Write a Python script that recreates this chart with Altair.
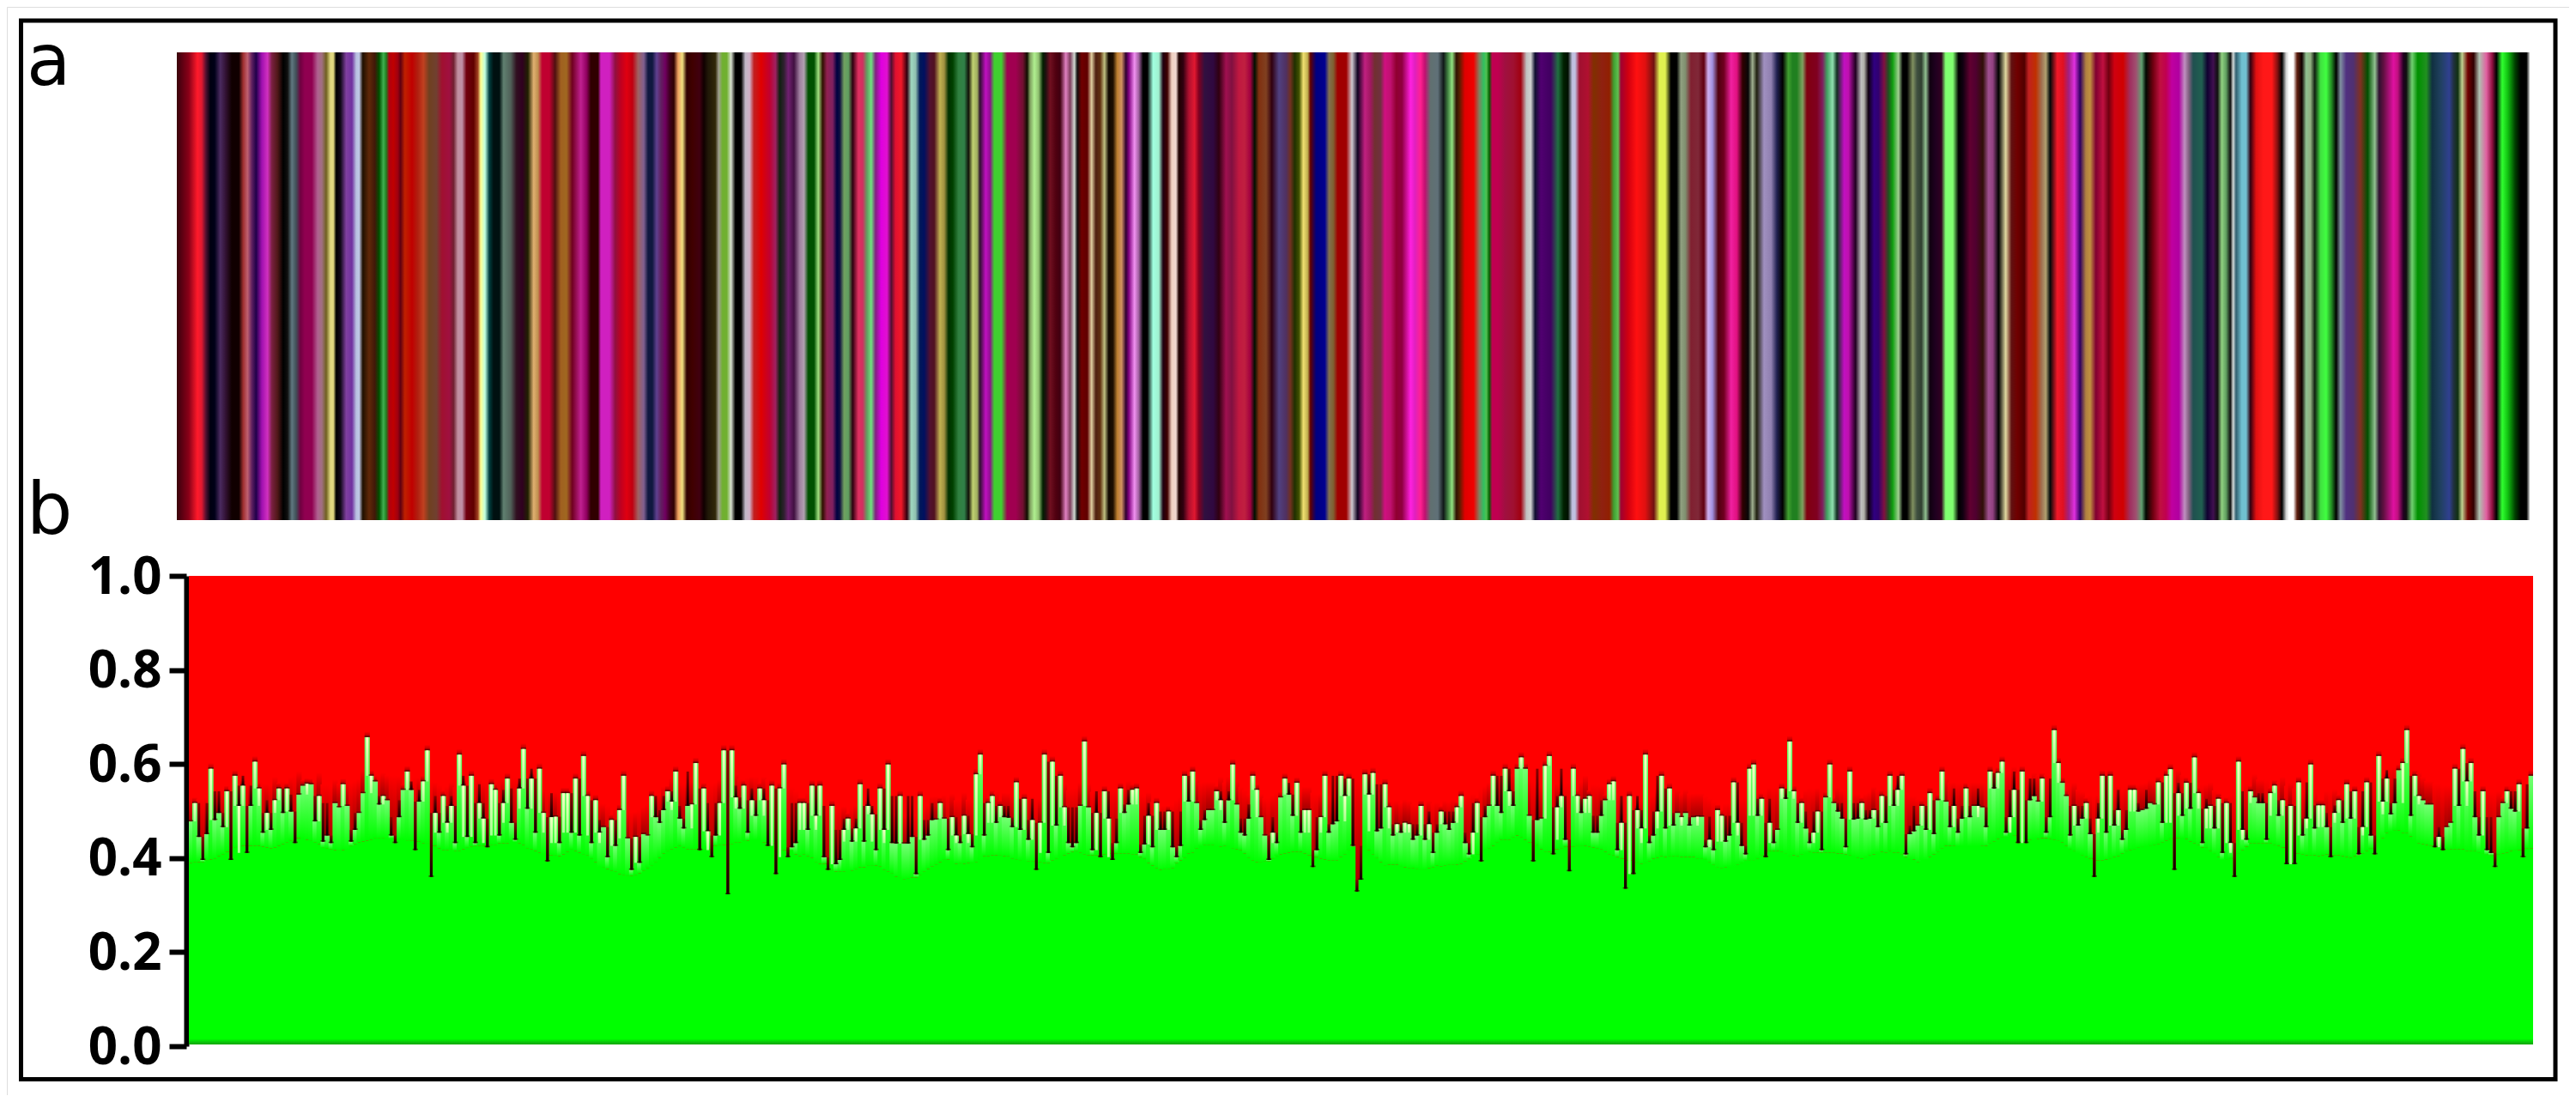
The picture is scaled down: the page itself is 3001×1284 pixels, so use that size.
import altair as alt
import pandas as pd
import numpy as np

alt.data_transformers.disable_max_rows()

tick_values = [0.0, 0.2, 0.4, 0.6, 0.8, 1.0]
panel_labels = ["a", "b"]

# Panel b: membership of the green cluster, sample by sample
green_1 = [.478,.517,.445,.396,.451,.590,.481,.496,.466,.542,.396,.575,.511,.554,.411,.511,.605,.548,.454,.496,.460,.523,.548,.496,.548,.499,.432,.535,.554,.558,.557,.478,.532,.435,.448,.432,.517,.508,.557,.511,.435,.460,.496,.538,.657,.575,.563,.514,.532,.523,.448,.432,.487,.545,.584,.545,.417,.520,.563,.629,.360,.496,.454,.532,.475,.511,.432,.620,.554,.445,.575,.432,.517,.484,.423,.557,.545,.448,.517,.569,.475,.439,.548,.632,.505,.569,.454,.590,.496,.393,.487,.488,.432,.538,.538,.454,.569,.448,.617,.532,.432,.523,.454,.466,.402,.481,.426,.502,.575,.442,.375,.445,.390,.451,.448,.532,.487,.475,.502,.542,.520,.584,.484,.463,.511,.514,.602,.417,.548,.457,.402,.448,.517,.629,.323,.629,.529,.505,.554,.454,.523,.490,.548,.523,.426,.554]
green_2 = [.366,.548,.599,.402,.423,.432,.517,.517,.460,.554,.490,.554,.402,.375,.511,.387,.396,.460,.484,.435,.463,.557,.435,.511,.493,.417,.548,.460,.599,.432,.431,.532,.431,.431,.445,.366,.532,.439,.448,.481,.482,.517,.484,.417,.487,.448,.432,.490,.451,.423,.578,.620,.448,.517,.532,.475,.511,.487,.486,.466,.561,.460,.526,.439,.481,.375,.475,.620,.411,.605,.469,.575,.508,.432,.423,.432,.511,.648,.508,.417,.496,.402,.542,.484,.396,.432,.548,.496,.514,.545,.548,.411,.429,.490,.423,.517,.460,.460,.499,.423,.402,.426,.575,.520,.584,.517,.460,.481,.502,.502,.542,.523,.475,.523,.599,.514,.454,.448,.484,.575,.545,.487,.448,.396,.454,.432,.529,.569,.535,.490,.560,.454,.502,.502,.381,.417,.487,.575,.454,.472,.478,.575,.532,.569,.426,.329,.354,.578,.535,.581]
green_3 = [.457,.463,.557,.508,.448,.472,.454,.475,.472,.439,.448,.511,.439,.472,.411,.454,.499,.472,.460,.475,.508,.532,.432,.408,.454,.517,.393,.487,.511,.575,.511,.496,.590,.542,.511,.590,.614,.590,.490,.393,.481,.484,.596,.617,.408,.508,.532,.439,.372,.590,.532,.496,.526,.532,.454,.454,.490,.523,.557,.563,.417,.475,.335,.532,.366,.502,.463,.620,.432,.448,.499,.575,.463,.548,.469,.496,.487,.496,.469,.487,.488,.488,.423,.439,.417,.502,.490,.435,.448,.561,.475,.426,.408,.590,.599,.490,.526,.402,.475,.432,.460,.548,.526,.648,.542,.475,.517,.463,.432,.454,.499,.417,.529,.599,.517,.499,.484,.423,.584,.482,.484,.517,.482,.484,.502,.466,.532,.475,.575,.511,.545,.575,.408,.451,.457,.469,.511,.460,.538,.451,.523,.584,.520,.466,.511,.454,.484,.548,.487,.511]
green_4 = [.511,.508,.466,.584,.548,.581,.605,.454,.487,.545,.432,.584,.432,.523,.532,.520,.569,.454,.487,.672,.602,.560,.532,.448,.511,.469,.484,.517,.451,.360,.484,.575,.454,.575,.469,.502,.439,.460,.545,.545,.499,.502,.505,.517,.514,.561,.475,.575,.589,.375,.538,.490,.560,.505,.614,.538,.432,.505,.511,.463,.526,.411,.517,.432,.360,.605,.460,.439,.542,.529,.517,.517,.439,.538,.554,.490,.523,.387,.511,.387,.561,.448,.484,.599,.463,.512,.512,.466,.402,.496,.523,.475,.557,.484,.542,.408,.466,.561,.448,.408,.617,.520,.569,.493,.517,.587,.602,.672,.490,.575,.532,.523,.514,.514,.423,.445,.417,.466,.475,.590,.511,.632,.563,.602,.487,.448,.542,.417,.411,.381,.487,.517,.542,.505,.499,.557,.402,.463,.575]

# Panel a: colours read along the barcode, as (place in the reading window, colour)
strip_1 = [(18,"#3a0a0a"),(30,"#500010"),(60,"#8a0018"),(90,"#ff1a2a"),(105,"#e01830"),(120,"#501030"),(135,"#000010"),(150,"#000018"),(170,"#4a2a60"),(190,"#301030"),(210,"#100000"),(235,"#100000"),(250,"#a03030"),(265,"#c06070"),(280,"#602060"),(295,"#20004a"),(315,"#a010b0"),(335,"#d030c0"),(350,"#7a2040"),(370,"#501818"),(390,"#000000"),(405,"#101010"),(420,"#607880"),(435,"#405058"),(450,"#700040"),(465,"#900050"),(490,"#900050"),(510,"#b06090"),(525,"#a07080"),(540,"#706020"),(555,"#e0d880"),(565,"#e0d880"),(575,"#000000"),(590,"#100818"),(610,"#8040a0"),(630,"#7030a0"),(645,"#b8c0e0"),(655,"#c0c8e8"),(668,"#201000"),(690,"#602808"),(710,"#401808"),(725,"#005000"),(740,"#40b050"),(750,"#208020"),(760,"#b00010"),(775,"#c00000"),(790,"#a00010"),(800,"#600010"),(815,"#c02000"),(840,"#c00000"),(860,"#b02010"),(880,"#c04020"),(900,"#704020"),(925,"#704030"),(945,"#a01030"),(970,"#a01040"),(985,"#702030"),(1000,"#c090a0"),(1015,"#c090a8"),(1030,"#700010"),(1055,"#600000"),(1070,"#a04020"),(1080,"#ffff90"),(1095,"#c0ffe0"),(1110,"#004040"),(1125,"#001010"),(1145,"#001010"),(1160,"#608070"),(1185,"#506058"),(1205,"#301020"),(1225,"#300020"),(1245,"#202000"),(1265,"#e0b070"),(1280,"#c09050"),(1295,"#c00030"),(1320,"#c00030"),(1340,"#501010"),(1360,"#a06020"),(1380,"#a06820"),(1400,"#700020"),(1430,"#c02090"),(1450,"#900060"),(1465,"#300000"),(1490,"#300000")]
strip_2 = [(0,"#d020c0"),(30,"#d020c0"),(50,"#901040"),(70,"#c00020"),(90,"#e00010"),(110,"#c00010"),(130,"#a06060"),(150,"#806090"),(165,"#101840"),(180,"#101840"),(195,"#604090"),(210,"#602060"),(225,"#700060"),(240,"#400020"),(255,"#300000"),(270,"#f0a060"),(285,"#f0e080"),(300,"#300000"),(320,"#400000"),(345,"#400010"),(360,"#100000"),(375,"#201808"),(400,"#302808"),(412,"#a0a090"),(425,"#70b030"),(440,"#70b030"),(455,"#d8e0d0"),(470,"#000000"),(490,"#000000"),(505,"#c0b8c8"),(520,"#d0b0c8"),(535,"#c02020"),(560,"#e00000"),(590,"#c00030"),(610,"#a02060"),(625,"#102010"),(640,"#302030"),(655,"#702070"),(675,"#401040"),(695,"#a080a0"),(710,"#b0a0b0"),(725,"#005000"),(745,"#005000"),(760,"#a0e080"),(775,"#301000"),(790,"#902050"),(810,"#802060"),(825,"#000040"),(835,"#101040"),(850,"#70a060"),(865,"#60a060"),(880,"#300010"),(900,"#e03060"),(915,"#d03060"),(930,"#60a060"),(945,"#70e080"),(960,"#802080"),(980,"#e000e0"),(1000,"#e010d0"),(1015,"#501030"),(1030,"#e01030"),(1050,"#f01828"),(1070,"#300010"),(1085,"#a0d8c0"),(1100,"#90c0b0"),(1115,"#001858"),(1130,"#001060"),(1150,"#501030"),(1165,"#501020"),(1185,"#c0b050"),(1200,"#a09040"),(1215,"#003000"),(1230,"#004000"),(1250,"#308040"),(1270,"#308048"),(1285,"#101008"),(1300,"#c0d070"),(1315,"#a0b060"),(1325,"#301030"),(1345,"#c010c0"),(1360,"#901090"),(1375,"#40d030"),(1400,"#40d030"),(1420,"#a00050"),(1450,"#a00050"),(1475,"#701030"),(1490,"#101000")]
strip_3 = [(0,"#80a060"),(15,"#b0f090"),(30,"#90c070"),(45,"#002000"),(55,"#201010"),(70,"#701020"),(90,"#500010"),(105,"#400010"),(125,"#e080c0"),(140,"#804060"),(155,"#d0d8d0"),(165,"#101010"),(180,"#700000"),(200,"#600000"),(215,"#e0d0a0"),(230,"#502010"),(245,"#603010"),(260,"#c0c080"),(275,"#100800"),(290,"#201000"),(305,"#c08030"),(320,"#d09060"),(335,"#300030"),(345,"#800080"),(365,"#f090f0"),(380,"#a060a0"),(395,"#000000"),(410,"#000000"),(430,"#a0ffe0"),(450,"#a0f0d0"),(465,"#200010"),(480,"#400000"),(495,"#f0d0c0"),(510,"#f0d8d0"),(520,"#200000"),(535,"#300010"),(555,"#b01030"),(575,"#e01830"),(590,"#800020"),(610,"#301040"),(640,"#300840"),(660,"#300010"),(685,"#a01050"),(705,"#801040"),(730,"#c01840"),(750,"#c02040"),(770,"#a00040"),(785,"#001000"),(800,"#803010"),(825,"#804020"),(845,"#300010"),(870,"#504080"),(895,"#503060"),(910,"#703020"),(925,"#203000"),(940,"#405000"),(955,"#f0e070"),(970,"#c0b050"),(980,"#600000"),(1000,"#000080"),(1030,"#000090"),(1045,"#807050"),(1060,"#806030"),(1075,"#a00000"),(1105,"#a00000"),(1125,"#d0c8d0"),(1145,"#100020"),(1170,"#c02080"),(1190,"#a01860"),(1205,"#703030"),(1225,"#703040"),(1240,"#d01080"),(1260,"#c01070"),(1280,"#900030"),(1300,"#900040"),(1330,"#ff20e0"),(1345,"#e020c0"),(1365,"#ff2090"),(1380,"#c01070"),(1400,"#607070"),(1425,"#607078"),(1445,"#101818"),(1460,"#408040"),(1475,"#90e080"),(1490,"#301000")]
strip_4 = [(0,"#502000"),(20,"#e00000"),(50,"#f00000"),(70,"#808060"),(85,"#30c060"),(95,"#50c050"),(105,"#006000"),(115,"#c00050"),(135,"#c00050"),(160,"#a01040"),(190,"#a01030"),(215,"#a00010"),(235,"#c0c0c0"),(250,"#d0d0d0"),(265,"#101030"),(285,"#500070"),(320,"#400060"),(345,"#207040"),(365,"#002000"),(380,"#001000"),(395,"#c0c0e0"),(405,"#c0c0e0"),(420,"#a01030"),(450,"#b01030"),(470,"#803000"),(500,"#902010"),(525,"#902000"),(540,"#40a030"),(555,"#60c050"),(565,"#a00030"),(590,"#d00010"),(620,"#ff1010"),(650,"#e01010"),(680,"#701010"),(700,"#e0f050"),(720,"#e0f050"),(740,"#000000"),(760,"#000000"),(775,"#90a080"),(790,"#809070"),(810,"#802030"),(835,"#802838"),(855,"#600010"),(870,"#d0b0f0"),(885,"#a090e0"),(905,"#500010"),(925,"#700020"),(950,"#f020a0"),(970,"#e01080"),(990,"#300000"),(1010,"#080808"),(1025,"#a0b090"),(1040,"#202010"),(1065,"#a090c0"),(1090,"#9080b0"),(1110,"#202050"),(1130,"#000000"),(1150,"#40a030"),(1165,"#208020"),(1180,"#208020"),(1200,"#80a060"),(1215,"#800010"),(1250,"#800020"),(1270,"#802060"),(1285,"#40a060"),(1305,"#90e0b0"),(1320,"#103020"),(1345,"#c010c0"),(1360,"#c010b0"),(1385,"#200020"),(1405,"#c0c0c0"),(1415,"#b0b0a8"),(1430,"#100010"),(1450,"#300080"),(1465,"#300070"),(1485,"#801040")]
strip_5 = [(0,"#205020"),(15,"#10a010"),(35,"#a0d090"),(50,"#000000"),(65,"#000000"),(85,"#809060"),(100,"#405040"),(115,"#304030"),(130,"#90c090"),(145,"#100010"),(165,"#200020"),(185,"#300020"),(200,"#80ff70"),(225,"#80ff70"),(245,"#000000"),(260,"#100010"),(285,"#600030"),(305,"#500030"),(330,"#301008"),(350,"#a05090"),(365,"#904080"),(385,"#000000"),(410,"#e0d8a0"),(430,"#601010"),(450,"#700000"),(475,"#500000"),(490,"#c02020"),(515,"#c03000"),(535,"#a07050"),(550,"#b0a070"),(565,"#000808"),(590,"#f01828"),(610,"#e01020"),(630,"#a02080"),(650,"#e030e0"),(670,"#300060"),(690,"#b08040"),(705,"#c09040"),(725,"#800030"),(750,"#c01040"),(770,"#700010"),(790,"#d00010"),(820,"#d00000"),(845,"#a03060"),(865,"#a05070"),(885,"#60a070"),(900,"#000800"),(925,"#700010"),(950,"#c01040"),(970,"#c00050"),(990,"#c000a0"),(1015,"#b000a0"),(1035,"#c090c0")]
strip_6 = [(0,"#806080"),(15,"#205050"),(45,"#206050"),(65,"#100030"),(85,"#401050"),(100,"#101010"),(115,"#90d080"),(130,"#60a060"),(145,"#101010"),(155,"#d0d8d8"),(165,"#306070"),(185,"#70c0d0"),(200,"#70c0d0"),(215,"#300010"),(235,"#e01010"),(260,"#ff1818"),(290,"#ff1818"),(310,"#801010"),(325,"#000000"),(340,"#d0d0d0"),(350,"#ffffff"),(365,"#ffffff"),(378,"#602010"),(395,"#100000"),(410,"#90c090"),(425,"#90b080"),(440,"#102010"),(460,"#40e040"),(480,"#40ff40"),(500,"#208020"),(515,"#000000"),(530,"#8090a0"),(550,"#503080"),(575,"#503070"),(600,"#803020"),(625,"#005000"),(650,"#90c090"),(665,"#301030"),(680,"#601040"),(715,"#e010a0"),(730,"#c01080"),(750,"#200020"),(760,"#101010"),(780,"#70d070"),(800,"#009000"),(830,"#209020"),(850,"#103040"),(880,"#204060"),(910,"#304090"),(925,"#203040"),(940,"#103010"),(955,"#c0d090"),(975,"#700000"),(995,"#300000"),(1015,"#b0c0b0"),(1040,"#e060a0"),(1060,"#901040"),(1075,"#000000"),(1095,"#30ff30"),(1115,"#10c010"),(1140,"#004000"),(1160,"#000000"),(1180,"#000000"),(1190,"#c0c0c0")]
strip_windows = [(200, strip_1), (700, strip_2), (1200, strip_3), (1700, strip_4), (2200, strip_5), (2550, strip_6)]

STRIP_LEFT, STRIP_RIGHT = 206.0, 2947.0
PLOT_LEFT, PLOT_RIGHT = 220.0, 2951.0

stops = []
for origin, strip in strip_windows:
    for place, colour in strip:
        off = (origin + place / 3.0 - STRIP_LEFT) / (STRIP_RIGHT - STRIP_LEFT)
        stops.append((min(max(off, 0.0), 1.0), colour))
stops.sort(key=lambda s: s[0])
gradient = alt.Gradient(
    gradient="linear", x1=0, x2=1, y1=0, y2=0,
    stops=[alt.GradientStop(color=c, offset=o) for o, c in stops],
)

green = green_1 + green_2 + green_3 + green_4
n = len(green)
arr = np.array(green)
# local level of the outline: median of the neighbourhood, lightly evened out
med = np.array([np.median(arr[max(0, i - 5):i + 6]) for i in range(n)])
level = np.array([med[max(0, i - 3):i + 4].mean() for i in range(n)])

rows = []
for i, v in enumerate(green):
    e = float(level[i])
    lefts = [green[j] for j in range(max(0, i - 3), i)]
    rights = [green[j] for j in range(i + 1, min(n, i + 4))]
    lu = [x for x in lefts if x > v + 0.015]
    ru = [x for x in rights if x > v + 0.015]
    ld = [x for x in lefts[-2:] if x < v - 0.015]
    rd = [x for x in rights[:2] if x < v - 0.015]
    dip = min(lu[-1], ru[0]) if lu and ru else v
    spike = max(ld[-1], rd[0]) if ld and rd else v
    is_spike = v > e + 0.02
    rows.append({
        "i0": i - 0.15, "i1": i + 1.15, "v": v,
        "halo": v + 0.012 if is_spike else min(max(e, v) + 0.05, 1.0),
        "glow_lo": e - 0.085, "glow_hi": v,
        "edge": v + 0.003,
        "dip": dip, "spike": spike,
        "c0": i + 0.18, "c1": i + 0.82,
        "lo": 0.2,
    })
df = pd.DataFrame(rows)
dips = df[df["dip"] > df["v"]]
spikes = df[df["spike"] < df["v"]]
glowing = df[df["glow_hi"] > df["glow_lo"] + 0.002]

W, H = 2985, 1268
OFF = 8
xs = alt.Scale(domain=[0, n], range=[PLOT_LEFT - OFF, PLOT_RIGHT - OFF])
ys = alt.Scale(domain=[0, 1], range=[1219 - OFF, 671 - OFF])
xclip = alt.Scale(domain=[0, n], range=[PLOT_LEFT - OFF, PLOT_RIGHT - OFF], clamp=True)
X = alt.X("i0:Q", scale=xclip, axis=None)
Y_noaxis = lambda f: alt.Y(f, scale=ys, axis=None)

bands = pd.DataFrame({"x0": [0.0], "x1": [float(n)], "lo": [0.004], "hi": [1.0], "base": [0.32], "foot": [0.016]})
BX = alt.X("x0:Q", scale=xs, axis=None)

def vgrad(bottom, top):
    return alt.Gradient(gradient="linear", x1=0, x2=0, y1=1, y2=0, stops=[
        alt.GradientStop(color=bottom, offset=0), alt.GradientStop(color=top, offset=1)])

red_bg = alt.Chart(bands).mark_rect(color="#ff0000").encode(x=BX, x2="x1:Q", y=Y_noaxis("lo:Q"), y2="hi:Q")
halo = alt.Chart(df).mark_rect(color=vgrad("#a40000", "#ff0000")).encode(x=X, x2="i1:Q", y=Y_noaxis("v:Q"), y2="halo:Q")
green_base = alt.Chart(bands).mark_rect(color="#00ff00").encode(x=BX, x2="x1:Q", y=Y_noaxis("lo:Q"), y2="base:Q")
upper = alt.Chart(df[df["glow_lo"] >= df["v"]]).mark_rect(color="#00ff00").encode(x=X, x2="i1:Q", y=Y_noaxis("lo:Q"), y2="v:Q")
low_fill = alt.Chart(df[df["glow_lo"] < df["v"]]).mark_rect(color="#00ff00").encode(x=X, x2="i1:Q", y=Y_noaxis("lo:Q"), y2="glow_lo:Q")
glow = alt.Chart(glowing).mark_rect(color=vgrad("#00ff00", "#74ff74")).encode(x=X, x2="i1:Q", y=Y_noaxis("glow_lo:Q"), y2="glow_hi:Q")
edge = alt.Chart(df).mark_rect(color="#300000", opacity=0.6).encode(x=X, x2="i1:Q", y=Y_noaxis("v:Q"), y2="edge:Q")
dip_bars = alt.Chart(dips).mark_rect(color=vgrad("#0c0000", "#8a0000")).encode(
    x=alt.X("c0:Q", scale=xs, axis=None), x2="c1:Q", y=Y_noaxis("v:Q"), y2="dip:Q")
spike_bars = alt.Chart(spikes).mark_rect(color=vgrad("#a8ff90", "#f8ffc4")).encode(
    x=alt.X("c0:Q", scale=xs, axis=None), x2="c1:Q", y=Y_noaxis("spike:Q"), y2="v:Q")
foot = alt.Chart(bands).mark_rect(color=vgrad("#10a010", "#00ff00")).encode(x=BX, x2="x1:Q", y=Y_noaxis("lo:Q"), y2="foot:Q")

axis_layer = alt.Chart(pd.DataFrame({"t": tick_values})).mark_tick(opacity=0).encode(
    y=alt.Y("t:Q", scale=ys, axis=alt.Axis(
        values=tick_values, format=".1f", title=None, grid=False,
        offset=-(217 - OFF), domainColor="#000000", domainWidth=6,
        tickColor="#000000", tickWidth=6, tickSize=20, labelPadding=9,
        labelFont="Open Sans", labelFontWeight="bold", labelFontSize=60,
        labelColor="#000000", labelOffset=2, labelFlush=False, labelOverlap=False,
    )))

strip = alt.Chart(pd.DataFrame({"s0": [0.0], "s1": [1.0], "t0": [0.0], "t1": [1.0]})).mark_rect(color=gradient).encode(
    x=alt.X("s0:Q", scale=alt.Scale(domain=[0, 1], range=[STRIP_LEFT - OFF, STRIP_RIGHT - OFF]), axis=None),
    x2="s1:Q",
    y=alt.Y("t0:Q", scale=alt.Scale(domain=[0, 1], range=[606 - OFF, 61 - OFF]), axis=None),
    y2="t1:Q",
)

frame = alt.Chart(pd.DataFrame({"f": [0]})).mark_rect(fill=None, stroke="#000000", strokeWidth=5).encode(
    x=alt.value(24.5 - OFF), x2=alt.value(2977 - OFF), y=alt.value(24 - OFF), y2=alt.value(1257.5 - OFF))

label_a = alt.Chart(pd.DataFrame({"t": [panel_labels[0]]})).mark_text(
    font="DejaVu Sans", fontSize=84, align="left", baseline="alphabetic", color="#000000",
).encode(text="t:N", x=alt.value(31 - OFF), y=alt.value(99 - OFF))
label_b = alt.Chart(pd.DataFrame({"t": [panel_labels[1]]})).mark_text(
    font="DejaVu Sans", fontSize=84, align="left", baseline="alphabetic", color="#000000",
).encode(text="t:N", x=alt.value(31 - OFF), y=alt.value(622 - OFF))

chart = alt.layer(
    strip, red_bg, halo, upper, low_fill, glow, green_base, foot, edge, dip_bars, spike_bars,
    axis_layer, frame, label_a, label_b,
).resolve_scale(x="independent", y="independent").resolve_axis(y="independent").properties(
    width=W, height=H, padding=0, autosize=alt.AutoSizeParams(type="none"),
).configure_view(stroke=None).configure(background="#ffffff")

chart.save("out.html", embed_options={"renderer": "svg", "actions": False})
